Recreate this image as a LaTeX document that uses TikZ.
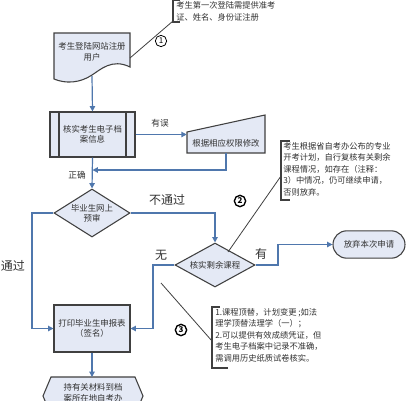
\documentclass[tikz,border=0pt]{standalone}
\usepackage{fontspec}
\setmainfont{Noto Sans CJK SC}
\usetikzlibrary{arrows.meta,shapes.geometric,shapes.misc}
\definecolor{boxfill}{RGB}{228,233,245}
\definecolor{boxline}{RGB}{64,64,64}
\definecolor{conn}{RGB}{79,119,173}
\definecolor{inkc}{RGB}{50,50,50}
\tikzset{
 shapeline/.style={draw=boxline,fill=boxfill,line width=0.8pt},
 flow/.style={draw=conn,line width=0.9pt,-{Triangle[length=4pt,width=4pt]}},
 flowline/.style={draw=conn,line width=0.9pt},
 txt/.style={font=\fontsize{6.3}{7.8}\selectfont,align=center,text=inkc},
 note/.style={font=\fontsize{6.2}{8.6}\selectfont,align=left,text=inkc,anchor=north west,inner sep=0pt},
 lbl/.style={font=\fontsize{9}{10}\selectfont,text=inkc,inner sep=0pt},
 slbl/.style={font=\fontsize{6.5}{7}\selectfont,text=inkc,inner sep=0pt},
 brk/.style={draw=boxline,line width=0.9pt},
 lead/.style={draw=black!75,line width=0.6pt},
 num/.style={circle,draw=black,line width=0.6pt,inner sep=0pt,minimum size=8.5pt,font=\fontsize{6}{6}\selectfont}
}
\begin{document}
\begin{tikzpicture}[x=0.75pt,y=-0.75pt]
\useasboundingbox (0,0) rectangle (409,400);
\fill[white] (0,0) rectangle (409,400);
\clip (0,0) rectangle (409,400);

% document shape
\draw[shapeline] (54,33) -- (130,33) -- (130,67) .. controls (112,58) and (100,70) .. (92,75) .. controls (80,83) and (66,84) .. (54,79) -- cycle;
\node[txt] (doc) at (92,52) {考生登陆网站注册\\用户};
\coordinate (docB) at (92,76);
\coordinate (docR) at (130,58);

% process box
\node[shapeline,minimum width=63.75pt,minimum height=33.75pt,inner sep=0pt] (proc) at (92.5,134.5) {};
\draw[boxline,line width=0.8pt] (59,112) -- (59,157) (126,112) -- (126,157);
\node[txt] at (proc) {核实考生电子档\\案信息};

% manual input
\draw[shapeline] (187,132) -- (265,115) -- (265,153) -- (187,153) -- cycle;
\node[minimum width=58.5pt,minimum height=28.5pt,inner sep=0pt] (mi) at (226,134) {};
\node[txt] at (226,143) {根据相应权限修改};

% diamonds
\node[diamond,shapeline,minimum width=57pt,minimum height=36pt,inner sep=0pt] (d1) at (92,213) {};
\node[txt] at (d1) {毕业生网上\\预审};
\node[diamond,shapeline,minimum width=60pt,minimum height=33pt,inner sep=0pt] (d2) at (215,265) {};
\node[txt] at (d2) {核实剩余课程};

% terminal
\node[rounded rectangle,shapeline,minimum width=54pt,minimum height=20.5pt,inner sep=0pt,txt] (term) at (369,244.5) {放弃本次申请};

% print box
\node[shapeline,minimum width=57pt,minimum height=35.25pt,inner sep=0pt,txt] (pb) at (92,328.5) {打印毕业生申报表\\（签名）};

% hexagon (cut off)
\draw[shapeline] (51,377) -- (135,377) -- (143,396) -- (135,415) -- (51,415) -- (43,396) -- cycle;
\coordinate (hexT) at (92,377);
\node[txt] (hex) at (93,393) {持有关材料到档\\案所在地自考办};

% connectors
\draw[flow] (docB) -- (proc.north);
\draw[flow] (proc.east) -- (proc.east -| mi.west);
\node[slbl] at (160,123) {有误};
\coordinate (ret) at (226,170);
\draw[flow] (mi.south) -- (ret) -- (ret -| proc.south);
\draw[flow] (proc.south) -- (d1.north);
\node[slbl] at (77,175) {正确};
\draw[flow] (d1.east) -- (d1.east -| d2.north) -- (d2.north);
\node[lbl] at (167,200) {不通过};
\coordinate (lp) at (32,213);
\draw[flow] (d1.west) -- (lp) -- (lp |- pb.west) -- (pb.west);
\node[lbl] at (13,266) {通过};
\coordinate (rp) at (153,265);
\draw[flow] (d2.west) -- (rp) -- (rp |- pb.east) -- (pb.east);
\node[lbl] at (161,255) {无};
\coordinate (tp) at (278,265);
\draw[flow] (d2.east) -- (tp) -- (tp |- term.west) -- (term.west);
\node[lbl] at (261,254) {有};
\draw[flow] (pb.south) -- (hexT);

% annotation 1
\draw[brk] (180,0.5) -- (173,0.5) -- (173,22) -- (180,22);
\node[note] (n1) at (176,1.5) {考生第一次登陆需提供准考\\证、姓名、身份证注册};
\coordinate (b1) at (173,21);
\draw[lead] (docR) -- (b1);
\node[num] at (161,41) {1};

% annotation 2
\draw[brk] (290,141) -- (281,141) -- (281,200) -- (290,200);
\node[note] (n2) at (283,142) {考生根据省自考办公布的专业\\开考计划，自行复核有关剩余\\课程情况，如存在（注释：\\3）中情况，仍可继续申请，\\否则放弃。};
\coordinate (b2) at (281,176);
\coordinate (s2) at (228,252);
\draw[lead] (s2) -- (b2);
\node[num,line width=1pt,font=\fontsize{6}{6}\selectfont\bfseries] at (240,201) {2};

% annotation 3
\draw[brk] (220,307) -- (212,307) -- (212,368) -- (228,368);
\node[note] (n3) at (215,308) {1.课程顶替，计划变更 ;如法\\理学顶替法理学（一）；\\2.可以提供有效成绩凭证，但\\考生电子档案中记录不准确，\\需调用历史纸质试卷核实。};
\coordinate (s3) at (161,283);
\coordinate (b3) at (212,341);
\draw[lead] (s3) -- (b3);
\node[num,line width=1pt,font=\fontsize{6}{6}\selectfont\bfseries] at (181,330) {3};
\end{tikzpicture}
\end{document}
